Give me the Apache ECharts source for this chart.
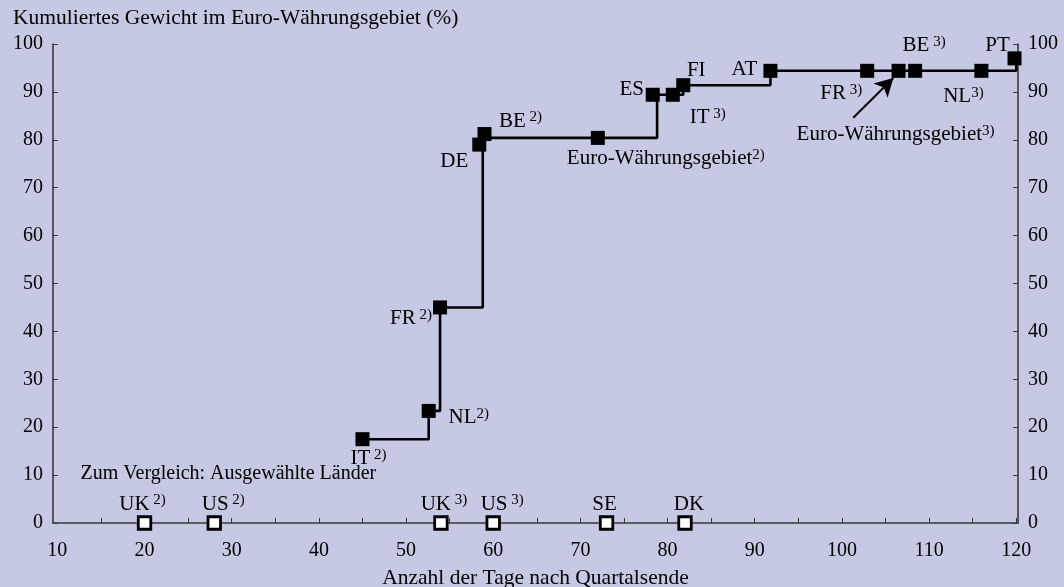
<!DOCTYPE html>
<html><head><meta charset="utf-8">
<script src="https://cdn.jsdelivr.net/npm/echarts@6/dist/echarts.min.js"></script>
<style>html,body{margin:0;padding:0;background:#c5c9e3}#c{width:1064px;height:587px}</style>
</head><body><div id="c"></div>
<script>
// ---- data ----
const euroNames   = ['IT','NL','FR','DE','BE','Euro-Währungsgebiet','ES','IT','FI','AT','FR','Euro-Währungsgebiet','BE','NL','PT'];
const euroNotes   = [' 2)','2)',' 2)','',' 2)','2)','',' 3)','','',' 3)','3)',' 3)','3)',''];
const euroDays    = [45, 52.6, 53.9, 58.4, 59, 72, 78.3, 80.6, 81.8, 91.8, 102.9, 106.5, 108.4, 116, 119.8];
const euroWeights = [17.5, 23.4, 45, 79, 81.2, 80.4, 89.4, 89.4, 91.4, 94.4, 94.4, 94.4, 94.4, 94.4, 97];
const stepDays    = [45, 52.6, 53.9, 58.8, 78.8, 81.8, 91.8, 120];
const stepWeights = [17.5, 23.4, 45, 80.4, 89.4, 91.4, 94.4, 97];
const otherNames  = ['UK','US','UK','US','SE','DK'];
const otherNotes  = [' 2)',' 2)',' 3)',' 3)','',''];
const otherDays   = [20, 28, 54, 60, 73, 82];
const otherWeights= [0, 0, 0, 0, 0, 0];
const xTickLabels = [10,20,30,40,50,60,70,80,90,100,110,120];
const xMinorTicks = [15,20,25,30,35,40,45,50,55,60,65,70,75,80,85,90,95,100,105,110,115,120];
const yTickLabels = [0,10,20,30,40,50,60,70,80,90,100];
const arrowFrom = [101.3, 84.6];
const arrowTo   = [105.9, 92.9];
const noteText  = 'Zum Vergleich: Ausgewählte Länder';
const noteAnchor = [12.6, 10.2];
const yTitle = 'Kumuliertes Gewicht im Euro-Währungsgebiet (%)';
const xTitle = 'Anzahl der Tage nach Quartalsende';

// ---- styles ----
const FONT = '"Liberation Serif", "Times New Roman", serif';
const TXT = '#000';
const euroLabelOffsets = [[6,19],[40,7],[-29,11],[-25,17],[36,-13],[68,21],[-21,-5],[35,23],[13,-15],[-26,-1],[-26,23],[-3,64],[9,-25],[-18,26],[-17,-13]];
const otherLabelOffsets = [[-2,-19],[9,-19],[3,-19],[9,-19],[-2,-19],[4,-19]];
const rich = {
  b: {fontFamily: FONT, fontSize: 21, color: TXT, lineHeight: 22, textBorderWidth: 0},
  s: {fontFamily: FONT, fontSize: 15, color: TXT, lineHeight: 12, verticalAlign: 'top', textBorderWidth: 0}
};
function richLabel(name, note){ return '{b|' + name + '}' + (note ? '{s|' + note + '}' : ''); }

const euroData = euroDays.map((d,i)=>({
  value:[d, euroWeights[i]],
  label:{offset: euroLabelOffsets[i], formatter: richLabel(euroNames[i], euroNotes[i])}
}));
const otherData = otherDays.map((d,i)=>({
  value:[d, otherWeights[i]],
  label:{offset: otherLabelOffsets[i], formatter: richLabel(otherNames[i], otherNotes[i])}
}));
const stepData = stepDays.map((d,i)=>[d, stepWeights[i]]);

const axisLineStyle = {color:'#3a3a3a', width:1.6};
const yAxisCommon = {
  type:'value', min:0, max:100, interval:10,
  axisLine:{show:true, lineStyle:axisLineStyle},
  axisTick:{show:true, inside:true, length:5, lineStyle:{color:'#3a3a3a', width:1}},
  axisLabel:{fontFamily:FONT, fontSize:20, color:TXT, margin:10},
  splitLine:{show:false}
};
const labelBase = {show:true, position:'inside', rich:rich, color:TXT, opacity:1, textBorderWidth:0, textShadowBlur:0};

const chart = echarts.init(document.getElementById('c'), null, {renderer:'canvas'});
chart.setOption({
  backgroundColor:'#c5c9e3',
  animation:false,
  title:{text:yTitle, left:13, top:7, padding:0,
    textStyle:{fontFamily:FONT, fontSize:21.5, fontWeight:'normal', color:TXT}},
  grid:{left:53, right:46, top:44, bottom:64, containLabel:false, outerBoundsMode:'none'},
  xAxis:{
    type:'value', min:9.5, max:120.2,
    name:xTitle, nameLocation:'middle', nameGap:44,
    nameTextStyle:{fontFamily:FONT, fontSize:21.5, color:TXT},
    axisLine:{show:true, onZero:false, lineStyle:axisLineStyle},
    axisTick:{show:true, inside:true, length:5, customValues:xMinorTicks, lineStyle:{color:'#3a3a3a', width:1}},
    axisLabel:{fontFamily:FONT, fontSize:20, color:TXT, margin:18, customValues:xTickLabels},
    splitLine:{show:false}
  },
  yAxis:[
    Object.assign({position:'left'}, yAxisCommon),
    Object.assign({position:'right'}, yAxisCommon)
  ],
  series:[
    {
      type:'line', step:'end', data:stepData, showSymbol:false, symbol:'none',
      lineStyle:{color:'#000', width:2.6}, z:2, silent:true,
      markLine:{
        silent:true, symbol:['none','arrow'], symbolSize:[15,18],
        lineStyle:{color:'#000', width:2, type:'solid'},
        label:{show:false},
        data:[[{coord:arrowFrom},{coord:arrowTo}]]
      }
    },
    {
      type:'scatter', data:euroData, symbol:'rect', symbolSize:14,
      itemStyle:{color:'#000', opacity:1}, z:3,
      label:labelBase
    },
    {
      type:'scatter', data:otherData, symbol:'rect', symbolSize:12.5,
      itemStyle:{color:'#fff', borderColor:'#000', borderWidth:2.8, opacity:1}, z:3,
      label:labelBase,
      markPoint:{
        silent:true, symbol:'rect', symbolSize:1, itemStyle:{color:'rgba(0,0,0,0)'},
        label:{show:true, position:'right', distance:0, fontFamily:FONT, fontSize:20, color:TXT, formatter:noteText},
        data:[{coord:noteAnchor}]
      }
    }
  ]
});
</script>
</body></html>
